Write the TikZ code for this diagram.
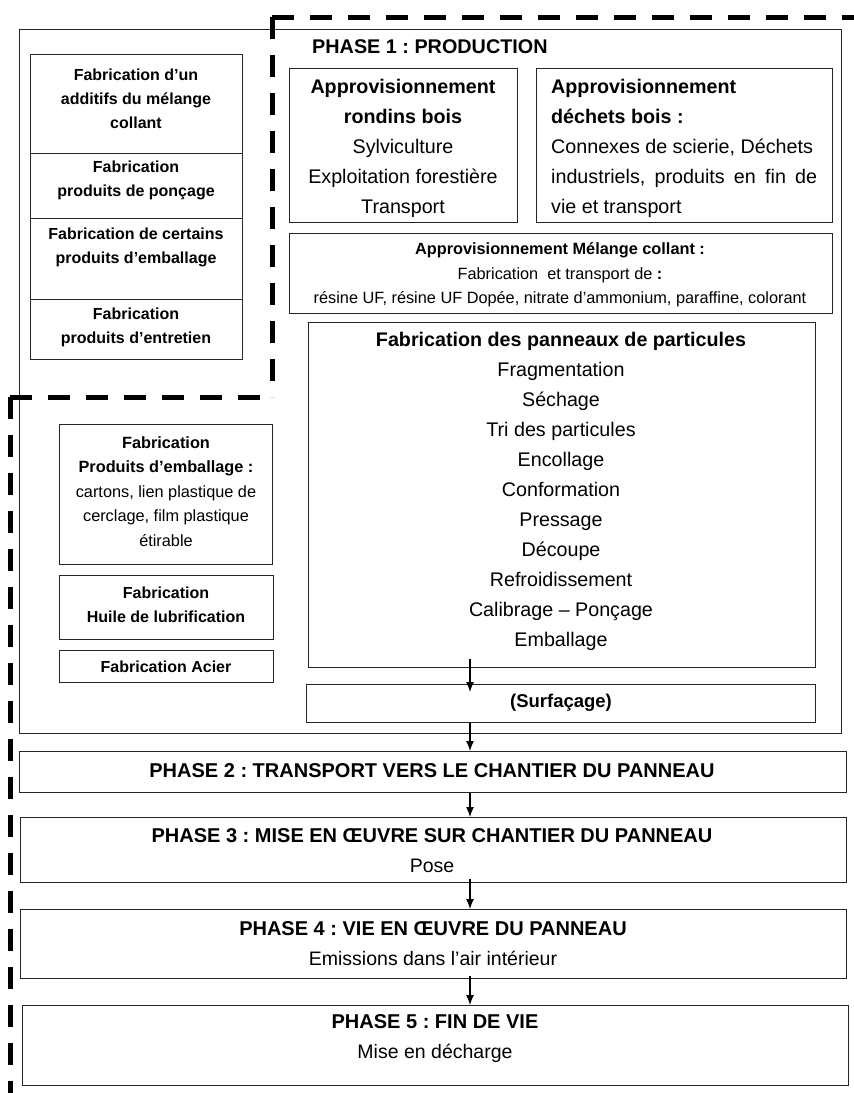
\documentclass[tikz,border=0pt]{standalone}
\usepackage{fontspec}
\setmainfont{Liberation Sans}
\usetikzlibrary{arrows.meta}
\begin{document}
\frenchspacing
\begin{tikzpicture}[x=1pt,y=-1pt,
  box/.style={draw=black!85, line width=1.1pt, inner sep=0pt, anchor=north west},
  txt/.style={inner sep=0pt, align=center},
  big/.style={font={\fontsize{19.7}{30}\selectfont\frenchspacing}},
  mid/.style={font={\fontsize{16.3}{24.5}\selectfont\frenchspacing}},
  midb/.style={font={\fontsize{16}{24}\selectfont\bfseries\frenchspacing}},
  ph/.style={font={\fontsize{19.5}{30}\selectfont\frenchspacing}},
  arr/.style={-{Latex[length=10pt,width=8pt]}, line width=1.3pt},
  bigdash/.style={line width=5pt, dash pattern=on 22pt off 16pt}
]
\useasboundingbox (0,0) rectangle (854,1093);
% Phase 1 frame
\node[box, minimum width=822, minimum height=704] (main) at (19,29) {};
\node[txt, anchor=west, font={\fontsize{19.8}{30}\selectfont\bfseries\frenchspacing}] (p1) at (312,47) {PHASE 1 : PRODUCTION};
% supply boxes
\node[box, minimum width=228, minimum height=154] (rond) at (289,68) {};
\node[txt, big] (rondt) at (403,148) {\textbf{Approvisionnement}\\ \textbf{rondins bois}\\ Sylviculture\\ Exploitation forestière\\ Transport};
\node[box, minimum width=296, minimum height=154] (dech) at (536,68) {};
\node[txt, big, align=left, anchor=west] (decht) at (551,148) {\textbf{Approvisionnement}\\ \textbf{déchets bois :}\\ Connexes de scierie, Déchets\\ \hbox to 266pt{industriels,\hfill produits\hfill en\hfill fin\hfill de}\\ vie et transport};
\node[box, minimum width=543, minimum height=80] (mel) at (289,233) {};
\node[txt, mid] (melt) at (560,275) {\textbf{Approvisionnement Mélange collant :}\\ Fabrication\ \ et transport de \textbf{:}\\ résine UF, résine UF Dopée, nitrate d’ammonium, paraffine, colorant};
% panels
\node[box, minimum width=507, minimum height=345] (pan) at (308,322) {};
\node[txt, big] (pant) at (561,491) {\textbf{Fabrication des panneaux de particules}\\ Fragmentation\\ Séchage\\ Tri des particules\\ Encollage\\ Conformation\\ Pressage\\ Découpe\\ Refroidissement\\ Calibrage – Ponçage\\ Emballage};
\node[box, minimum width=509, minimum height=38] (surf) at (306,684) {};
\node[txt, font={\fontsize{18.5}{24}\selectfont\bfseries}] (surft) at (561,703) {(Surfaçage)};
% left stacked boxes
\node[box, minimum width=212, minimum height=99] (l1) at (30,54) {};
\node[box, minimum width=212, minimum height=65] (l2) at (30,153) {};
\node[box, minimum width=212, minimum height=81] (l3) at (30,218) {};
\node[box, minimum width=212, minimum height=60] (l4) at (30,299) {};
\node[txt, midb] (l1t) at (136,99) {Fabrication d’un\\ additifs du mélange\\ collant};
\node[txt, midb] (l2t) at (136,180.5) {Fabrication\\ produits de ponçage};
\node[txt, midb] (l3t) at (136,247) {Fabrication de certains\\ produits d’emballage};
\node[txt, midb] (l4t) at (136,327.5) {Fabrication\\ produits d’entretien};
% lower left boxes
\node[box, minimum width=213, minimum height=140] (e1) at (59,424) {};
\node[txt, mid] (e1t) at (166,491.5) {\textbf{Fabrication}\\ \textbf{Produits d’emballage :}\\ cartons, lien plastique de\\ cerclage, film plastique\\ étirable};
\node[box, minimum width=214, minimum height=64] (e2) at (59,575) {};
\node[txt, midb] (e2t) at (166,604.5) {Fabrication\\ Huile de lubrification};
\node[box, minimum width=214, minimum height=32] (e3) at (59,650) {};
\node[txt, midb] (e3t) at (166,666.5) {Fabrication Acier};
% phases
\node[box, minimum width=827, minimum height=41] (ph2) at (19,751) {};
\node[txt, font={\fontsize{20}{30}\selectfont\bfseries\frenchspacing}] (ph2t) at (432,771) {PHASE 2 : TRANSPORT VERS LE CHANTIER DU PANNEAU};
\node[box, minimum width=826, minimum height=65] (ph3) at (20,817) {};
\node[txt, ph] (ph3t) at (432,851) {\textbf{\fontsize{20}{30}\selectfont PHASE 3 : MISE EN ŒUVRE SUR CHANTIER DU PANNEAU}\\ Pose};
\node[box, minimum width=826, minimum height=69] (ph4) at (20,909) {};
\node[txt, ph] (ph4t) at (433,943.5) {\textbf{\fontsize{20}{30}\selectfont PHASE 4 : VIE EN ŒUVRE DU PANNEAU}\\ Emissions dans l’air intérieur};
\node[box, minimum width=826, minimum height=80] (ph5) at (22,1005) {};
\node[txt, ph] (ph5t) at (435,1038.5) {\textbf{\fontsize{20}{30}\selectfont PHASE 5 : FIN DE VIE}\\ Mise en décharge};
% arrows
\coordinate (ax) at (470,0);
\draw[arr] ([yshift=9pt]pan.south -| ax) -- ([yshift=-8pt]surf.north -| ax);
\draw[arr] (surf.south -| ax) -- (ph2.north -| ax);
\draw[arr] (ph2.south -| ax) -- (ph3.north -| ax);
\draw[arr] ([yshift=4pt]ph3.south -| ax) -- (ph4.north -| ax);
\draw[arr] ([yshift=3pt]ph4.south -| ax) -- (ph5.north -| ax);
% dashed boundary
\coordinate (c1) at (272,17);
\coordinate (c2) at (272,397);
\coordinate (c3) at (10,397);
\coordinate (c4) at (10,1093);
\coordinate (c0) at (854,17);
\draw[bigdash] (c1) -- (c0);
\draw[bigdash] (c1) -- (c2);
\draw[bigdash] (c3) -- ([xshift=262pt]c3);
\draw[bigdash] (c3) -- (c4);
\end{tikzpicture}
\end{document}
